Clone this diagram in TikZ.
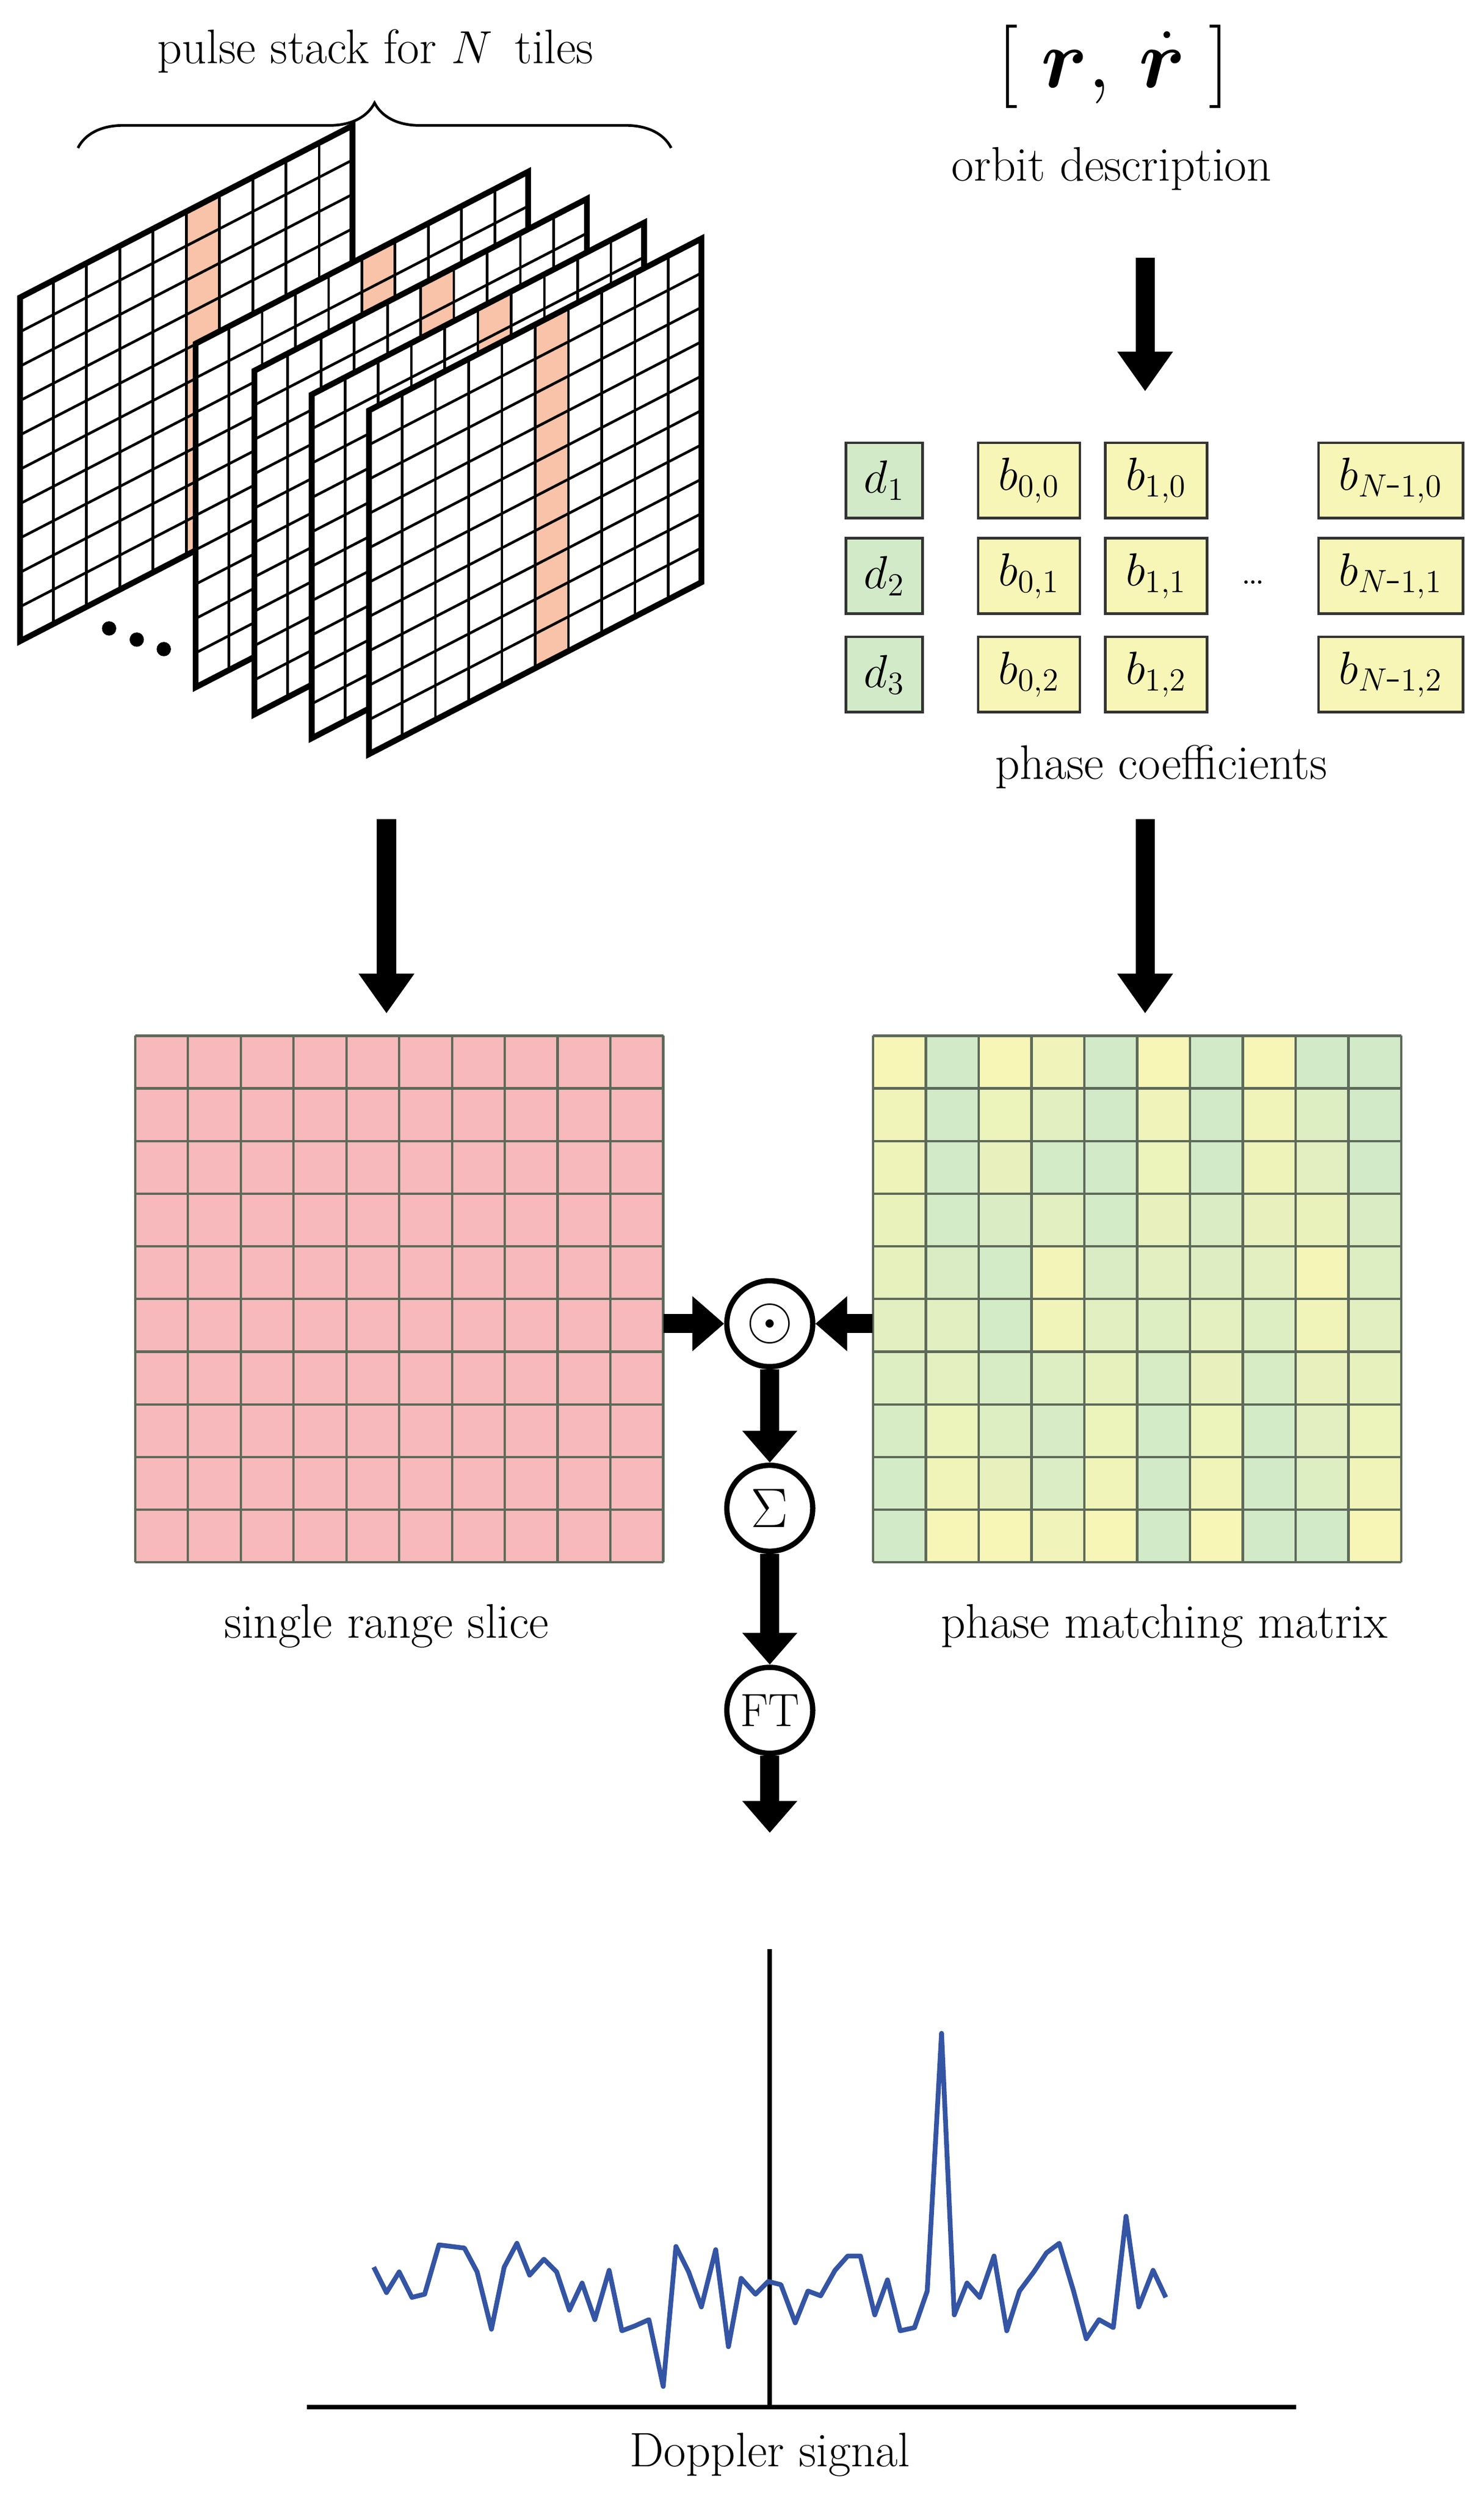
\documentclass[tikz,border=0pt]{standalone}
\usepackage{graphicx}
\usepackage{bm}
\usetikzlibrary{arrows.meta,decorations.pathreplacing}
\definecolor{hl}{HTML}{F8C3A8}
\definecolor{redc}{HTML}{F7B9BB}
\definecolor{yel}{HTML}{F7F6B6}
\definecolor{grn}{HTML}{D2EAC8}
\definecolor{gridc}{HTML}{5E6A5A}
\definecolor{sig}{HTML}{3454A4}
\newcommand{\cf}[1]{\scalebox{1.2}{$#1$}}
\tikzset{
  bigarrow/.style={line width=0.36cm,-{Triangle[width=1.0cm,length=0.75cm]}},
  txt/.style={font=\fontsize{26}{30}\selectfont},
  coef/.style={draw=black!80,line width=0.05cm,minimum height=1.42cm,font=\fontsize{20.74}{25}\selectfont,inner sep=0pt},
  dbox/.style={coef,fill=grn,minimum width=1.44cm},
  bbox/.style={coef,fill=yel,minimum width=1.92cm},
  op/.style={circle,draw,line width=0.1cm,minimum size=1.62cm,inner sep=0pt,fill=white,font=\fontsize{25}{29}\selectfont}
}
\begin{document}
\begin{tikzpicture}[x=0.03cm,y=-0.03cm]
\useasboundingbox (0,0) rectangle (933,1572);
% pulse stack planes
\foreach \ox/\oy in {12.6/403,123/432,160/449,196/464,232/474}{
 \begin{scope}[shift={(\ox*0.03cm,-\oy*0.03cm)},x={(0.627cm,0.324cm)},y={(0cm,0.648cm)}]
  \fill[white] (0,0)--(10,0)--(10,10)--(0,10)--cycle;
  \fill[hl] (5,0)--(6,0)--(6,10)--(5,10)--cycle;
  \foreach \i in {1,...,9}{\draw[line width=0.05cm] (\i,0)--(\i,10); \draw[line width=0.05cm] (0,\i)--(10,\i);}
  \draw[line width=0.11cm] (0,0)--(10,0)--(10,10)--(0,10)--cycle;
 \end{scope}}
\foreach \x/\y in {68.6/395,86/402,103/408} \fill (\x,\y) circle (4.5);
% brace
\coordinate (bl) at (49,93); \coordinate (br) at (422,93);
\draw[line width=0.05cm,decorate,decoration={brace,amplitude=0.85cm}] (bl)--(br);
\node[txt] (stack) at (236,32) {pulse stack for $N$\, tiles};
% orbit
\node[font=\fontsize{24.88}{30}\selectfont] (rr) at (700,42) {\scalebox{1.8}{$[\;\bm{r},\,\dot{\bm{r}}\;]$}};
\node[txt] (orbit) at (699,106) {orbit description};
\coordinate (a1s) at (720,162); \coordinate (a1e) at (720,246);
\draw[bigarrow] (a1s)--(a1e);
% coefficients
\foreach \rr/\y/\k in {0/302/1,1/362/2,2/424/3}{
 \node[dbox] (d\k) at (556,\y) {\cf{d_{\k}}};
 \node[bbox] (b0\rr) at (647,\y) {\cf{b_{0,\rr}}};
 \node[bbox] (b1\rr) at (727,\y) {\cf{b_{1,\rr}}};
 \node[bbox,minimum width=2.73cm] (bn\rr) at (874.5,\y) {\cf{b_{N\mbox{-}1,\rr}}};}
\node[font=\fontsize{22}{26}\selectfont] (dots) at (788,366) {\dots};
\node[txt] (phc) at (730,482) {phase coefficients};
% matrices
\fill[redc] (85,651) rectangle (417,982);
\foreach \i in {0,...,10}{\draw[gridc,line width=0.045cm] (85+33.2*\i,651)--(85+33.2*\i,982); \draw[gridc,line width=0.045cm] (85,651+33.1*\i)--(417,651+33.1*\i);}
\node[minimum width=9.96cm,minimum height=9.93cm] (red) at (251,816.5) {};
\node[txt] (lab1) at (243,1022) {single range slice};
\foreach \row [count=\j from 0] in {
 {100,0,100,80,0,100,0,100,0,0},
 {85,0,70,40,0,80,0,85,30,0},
 {75,0,60,5,0,70,0,75,45,0},
 {65,5,20,40,5,60,20,60,65,20},
 {55,20,5,90,20,45,35,45,95,30},
 {45,40,5,85,40,30,50,30,85,40},
 {30,50,15,30,55,15,60,15,60,55},
 {15,70,30,10,70,5,70,5,45,70},
 {5,85,60,25,85,0,85,0,30,85},
 {0,100,100,80,100,0,100,0,0,100}}{
 \foreach \v [count=\i from 0] in \row {
  \fill[yel!\v!grn] (549+33.2*\i,651+33.1*\j) rectangle (549+33.2*\i+33.2,651+33.1*\j+33.1);}}
\foreach \i in {0,...,10}{\draw[gridc,line width=0.045cm] (549+33.2*\i,651)--(549+33.2*\i,982); \draw[gridc,line width=0.045cm] (549,651+33.1*\i)--(881,651+33.1*\i);}
\node[minimum width=9.96cm,minimum height=9.93cm] (phase) at (715,816.5) {};
\node[txt] (lab2) at (732,1022) {phase matching matrix};
% arrows down
\coordinate (a2s) at (243,515); \coordinate (a2e) at (243,637);
\coordinate (a3s) at (720,515); \coordinate (a3e) at (720,637);
\draw[bigarrow] (a2s)--(a2e); \draw[bigarrow] (a3s)--(a3e);
% operators
\node[op] (dot) at (484,832) {\scalebox{1.3}{$\odot$}};
\node[op] (sum) at (484,948) {\scalebox{1.2}{$\Sigma$}};
\node[op] (ft) at (484,1075) {FT};
\draw[bigarrow,-{Triangle[width=1.0cm,length=0.6cm]}] (red.east|-dot)--(dot.west);
\draw[bigarrow,-{Triangle[width=1.0cm,length=0.6cm]}] (phase.west|-dot)--(dot.east);
\draw[bigarrow,-{Triangle[width=1.0cm,length=0.6cm]}] (dot.south)--(sum.north);
\draw[bigarrow,-{Triangle[width=1.0cm,length=0.6cm]}] (sum.south)--(ft.north);
\coordinate (out) at (484,1152);
\draw[bigarrow,-{Triangle[width=1.0cm,length=0.6cm]}] (ft.south)--(out);
% plot
\coordinate (ax0) at (193,1513); \coordinate (ax1) at (815,1513);
\coordinate (ay0) at (484,1513); \coordinate (ay1) at (484,1225);
\draw[line width=0.08cm] (ax0)--(ax1);
\draw[line width=0.08cm] (ay0)--(ay1);
\draw[sig,line width=0.09cm,line join=round] (235,1425)--(243,1441)--(251,1428)--(259,1444)--(267,1442)--(276,1411)--(284,1412)--(292,1413)--(300,1428)--(309,1464)--(317,1425)--(325,1410)--(333,1430)--(342,1420)--(350,1428)--(358,1452)--(366,1435)--(374,1458)--(383,1427)--(391,1465)--(399,1462)--(408,1458)--(417,1500)--(425,1412)--(433,1428)--(441,1450)--(450,1414)--(458,1475)--(466,1432)--(475,1442)--(483,1434)--(491,1436)--(500,1460)--(508,1440)--(516,1443)--(525,1427)--(533,1418)--(541,1418)--(550,1455)--(558,1433)--(566,1465)--(575,1463)--(583,1440)--(592,1278)--(600,1455)--(608,1435)--(616,1444)--(625,1418)--(633,1465)--(641,1440)--(650,1428)--(658,1416)--(666,1410)--(675,1440)--(683,1470)--(691,1458)--(700,1463)--(708,1393)--(716,1450)--(725,1427)--(733,1444);
\node[txt] (lab3) at (484,1543) {Doppler signal};
\end{tikzpicture}
\end{document}
